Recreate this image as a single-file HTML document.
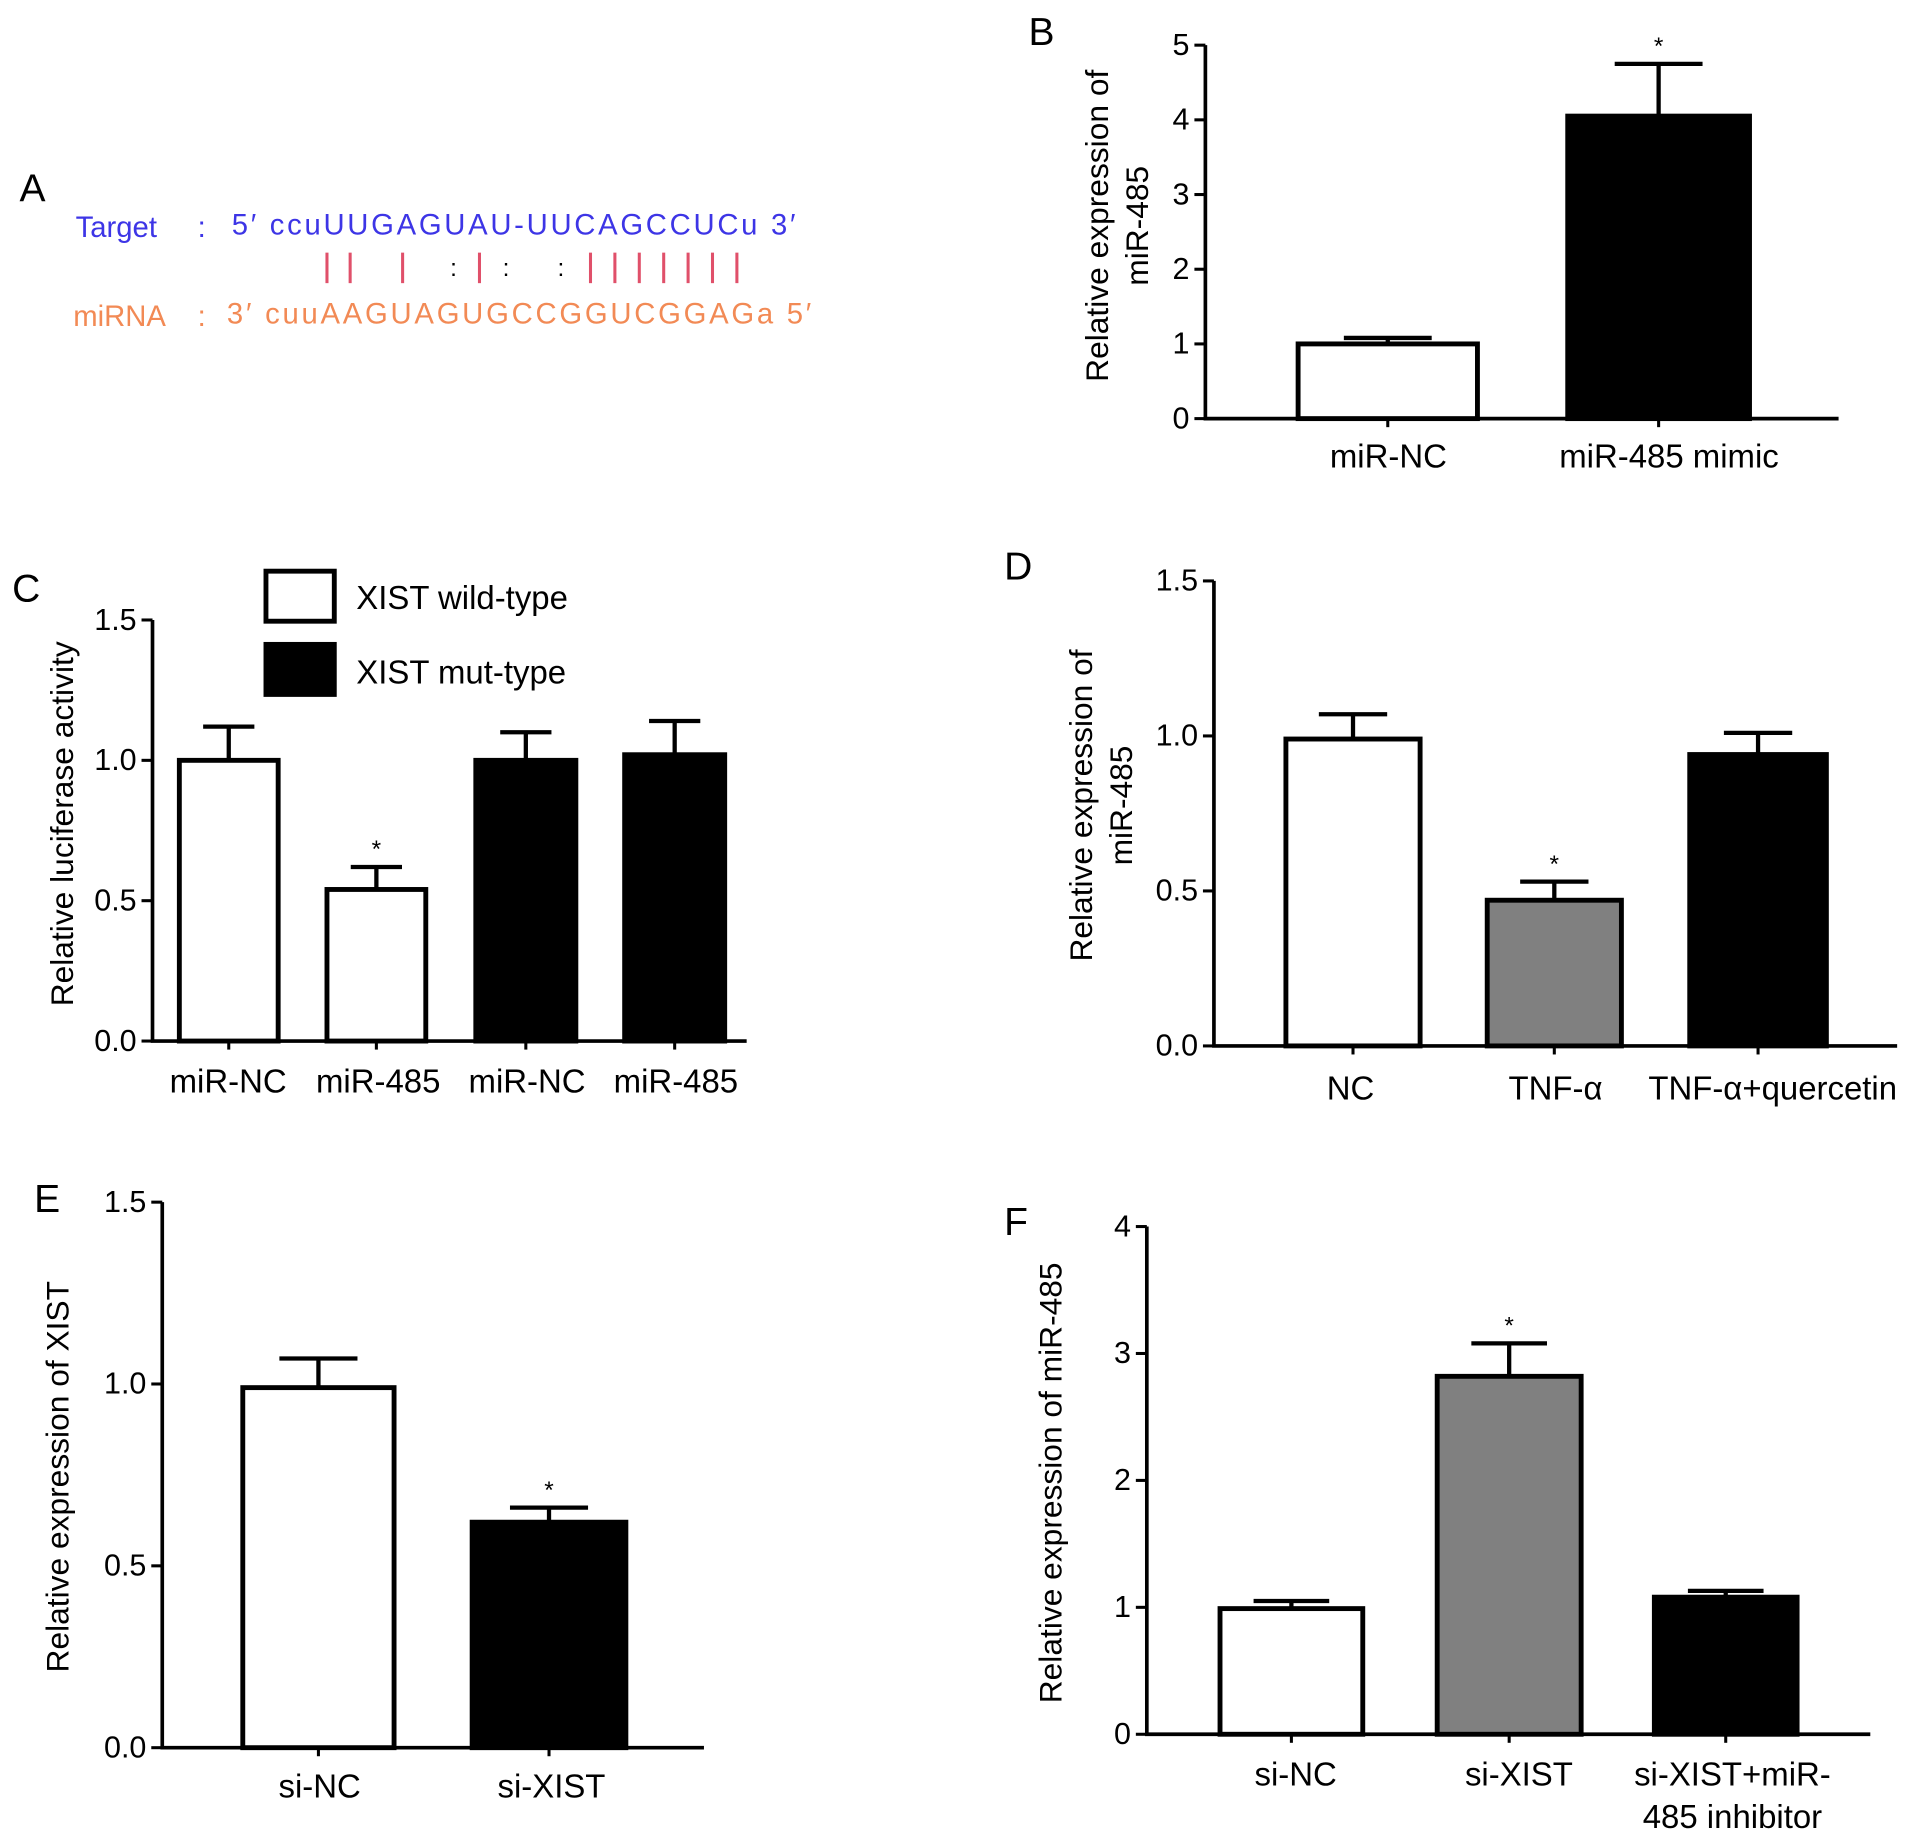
<!DOCTYPE html>
<html><head><meta charset="utf-8"><style>
html,body{margin:0;padding:0;background:#fff}
svg{display:block;font-family:"Liberation Sans",Arial,sans-serif}
</style></head><body>
<svg id="fig" width="1913" height="1838" viewBox="0 0 1568 1506" preserveAspectRatio="none" xmlns="http://www.w3.org/2000/svg">
<g font-size="24">
<text x="16" y="165" font-size="32">A</text>
<text x="62" y="194" fill="#3d35e6">Target</text>
<text x="162" y="194" fill="#3d35e6">:</text>
<text x="190" y="192" fill="#3d35e6" textLength="462">5′ ccuUUGAGUAU-UUCAGCCUCu 3′</text>
<g stroke="#e0506a" stroke-width="2.5">
<line x1="268" y1="207" x2="268" y2="232"/><line x1="287" y1="207" x2="287" y2="232"/><line x1="330" y1="207" x2="330" y2="232"/><line x1="393" y1="207" x2="393" y2="232"/>
<line x1="484" y1="207" x2="484" y2="232"/><line x1="504" y1="207" x2="504" y2="232"/><line x1="524" y1="207" x2="524" y2="232"/><line x1="544" y1="207" x2="544" y2="232"/><line x1="564" y1="207" x2="564" y2="232"/><line x1="584" y1="207" x2="584" y2="232"/><line x1="604" y1="207" x2="604" y2="232"/>
</g>
<text x="369" y="226" font-size="20">:</text>
<text x="412" y="226" font-size="20">:</text>
<text x="457" y="226" font-size="20">:</text>
<text x="60" y="267" fill="#f28a55">miRNA</text>
<text x="162" y="267" fill="#f28a55">:</text>
<text x="186" y="265" fill="#f28a55" textLength="479">3′ cuuAAGUAGUGCCGGUCGGAGa 5′</text>
</g>
</svg>
<script>
// Panel B
const bCats=["miR-NC","miR-485 mimic"];const bVals=[1.0,4.05];const bErr=[1.08,4.75];const bTicks=[0,1,2,3,4,5];const bTickLabels=["0","1","2","3","4","5"];
// Panel C
const cCats=["miR-NC","miR-485","miR-NC","miR-485"];const cVals=[1.0,0.54,1.0,1.02];const cErr=[1.12,0.62,1.1,1.14];const cTicks=[0,0.5,1,1.5];const cTickLabels=["0.0","0.5","1.0","1.5"];
// Panel D
const dCats=["NC","TNF-α","TNF-α+quercetin"];const dVals=[0.99,0.47,0.94];const dErr=[1.07,0.53,1.01];const dTicks=[0,0.5,1,1.5];const dTickLabels=["0.0","0.5","1.0","1.5"];
// Panel E
const eCats=["si-NC","si-XIST"];const eVals=[0.99,0.62];const eErr=[1.07,0.66];const eTicks=[0,0.5,1,1.5];const eTickLabels=["0.0","0.5","1.0","1.5"];
// Panel F
const fCats=[["si-NC"],["si-XIST"],["si-XIST+miR-","485 inhibitor"]];const fVals=[0.99,2.82,1.08];const fErr=[1.05,3.08,1.13];const fTicks=[0,1,2,3,4];const fTickLabels=["0","1","2","3","4"];

const NS="http://www.w3.org/2000/svg";const svg=document.getElementById('fig');
function mk(tag,attrs,parent,txt){const e=document.createElementNS(NS,tag);for(const k in attrs)e.setAttribute(k,attrs[k]);if(txt!==undefined)e.textContent=txt;parent.appendChild(e);return e;}
function panel(p){
 const g=mk('g',{},svg);
 
 
 const y=v=>p.y0-(v-p.ymin)/(p.ymax-p.ymin)*(p.y0-p.y1);
 const lab=mk('text',{x:p.lx,y:p.ly,'font-size':32},g,p.id.toUpperCase());
 
 
 p.cats.forEach((c,i)=>{
  const [x0,x1]=p.bars[i];const cx=(x0+x1)/2;const top=y(p.vals[i]);const et=y(p.err[i]);
  const ln=mk('path',{d:`M${cx} ${top}V${et}M${cx-p.cap} ${et}H${cx+p.cap}`,stroke:'#000','stroke-width':3.5,fill:'none'},g);
  
  
  const r=mk('rect',{x:x0+2,y:top,width:x1-x0-4,height:p.y0-top,fill:p.fills[i],stroke:'#000','stroke-width':4},g);
  
  
  if(p.stars[i]){const s=mk('text',{x:cx,y:et-8,'text-anchor':'middle','font-size':20},g,'*');
   
   }
  const lines=Array.isArray(c)?c:[c];
  lines.forEach((t,j)=>{const tl=mk('text',{x:p.labX?p.labX[i]:cx,y:p.laby+j*35,'text-anchor':'middle','font-size':27},g,t);
   
   });
  const tk=mk('line',{x1:cx,y1:p.y0,x2:cx,y2:p.y0+7,stroke:'#000','stroke-width':2.5},g);
  
  
 });
 const ax=mk('path',{d:`M${p.ax} ${p.y1}V${p.y0}H${p.xend}`,stroke:'#000','stroke-width':3,fill:'none'},g);
 
 
 p.ticks.forEach((t,i)=>{const yy=y(t);
  const tk=mk('line',{x1:p.ax-9,y1:yy,x2:p.ax,y2:yy,stroke:'#000','stroke-width':2.5},g);
  
  
  const tl=mk('text',{x:p.ax-13,y:yy+8,'text-anchor':'end','font-size':25},g,p.tickLabels[i]);
  
  });
 p.title.forEach((t,j)=>{const tt=mk('text',{x:0,y:0,'text-anchor':'middle','font-size':26,transform:`translate(${p.tx+j*33},${p.ty}) rotate(-90)`},g,t);
  
  });
}
panel({id:'b',cats:bCats,vals:bVals,err:bErr,ticks:bTicks,tickLabels:bTickLabels,ymin:0,ymax:5,y0:343,y1:37,ax:988,xend:1507,bars:[[1062,1213],[1283,1436]],fills:['#fff','#000'],stars:[0,1],cap:36,laby:383,lx:843,ly:37,title:['Relative expression of','miR-485'],tx:908,ty:185,labX:[1138,1368]});
panel({id:'c',cats:cCats,vals:cVals,err:cErr,ticks:cTicks,tickLabels:cTickLabels,ymin:0,ymax:1.5,y0:853,y1:508,ax:125,xend:612,bars:[[145,230],[266,351],[388,474],[510,596]],fills:['#fff','#fff','#000','#000'],stars:[0,1,0,0],cap:21,laby:895,lx:10,ly:493,title:['Relative luciferase activity'],tx:60,ty:675,labX:[187,310,432,554]});
panel({id:'d',cats:dCats,vals:dVals,err:dErr,ticks:dTicks,tickLabels:dTickLabels,ymin:0,ymax:1.5,y0:857,y1:476,ax:995,xend:1555,bars:[[1052,1166],[1217,1331],[1383,1499]],fills:['#fff','#808080','#000'],stars:[0,1,0],cap:28,laby:901,lx:823,ly:475,title:['Relative expression of','miR-485'],tx:895,ty:660,labX:[1107,1275,1453]});
panel({id:'e',cats:eCats,vals:eVals,err:eErr,ticks:eTicks,tickLabels:eTickLabels,ymin:0,ymax:1.5,y0:1432,y1:985,ax:133,xend:577,bars:[[197,325],[385,515]],fills:['#fff','#000'],stars:[0,1],cap:32,laby:1473,lx:28,ly:993,title:['Relative expression of XIST'],tx:56,ty:1210,labX:[262,452]});
panel({id:'f',cats:fCats,vals:fVals,err:fErr,ticks:fTicks,tickLabels:fTickLabels,ymin:0,ymax:4,y0:1421,y1:1005,ax:940,xend:1533,bars:[[998,1119],[1176,1298],[1354,1475]],fills:['#fff','#808080','#000'],stars:[0,1,0],cap:31,laby:1463,lx:823,ly:1012,title:['Relative expression of miR-485'],tx:870,ty:1215,labX:[1062,1245,1420]});
// legend C
const lg=mk('g',{},svg);


const l1=mk('rect',{x:218,y:468,width:56,height:41,fill:'#fff',stroke:'#000','stroke-width':4},lg);


const l2=mk('rect',{x:218,y:528,width:56,height:41,fill:'#000',stroke:'#000','stroke-width':4},lg);


const t1=mk('text',{x:292,y:499,'font-size':27},lg,'XIST wild-type');


const t2=mk('text',{x:292,y:560,'font-size':27},lg,'XIST mut-type');


</script>
</body></html>
